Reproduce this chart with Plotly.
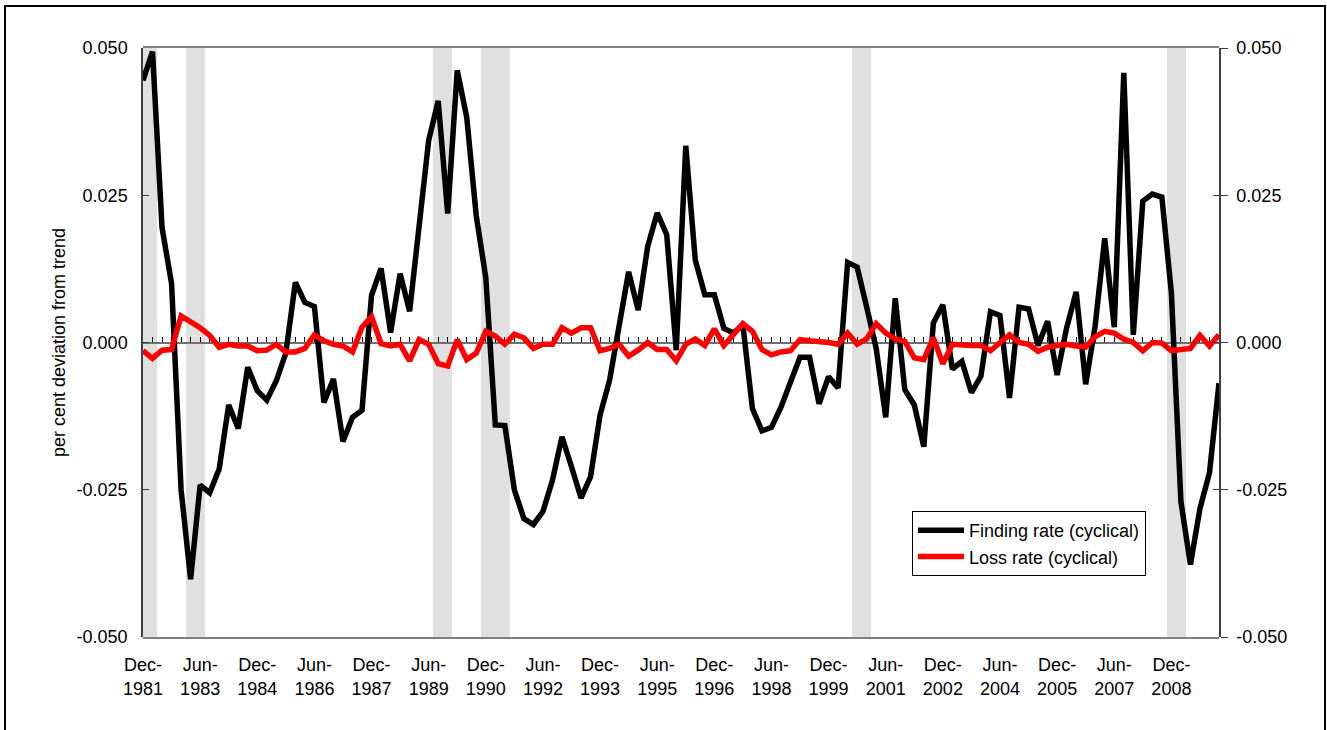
import plotly.graph_objects as go

# ---------------- data ----------------
months = ["Mar", "Jun", "Sep", "Dec"]
quarters = ["Dec-1981"] + [f"{m}-{y}" for y in range(1982, 2010) for m in months] + ["Mar-2010"]

finding_rate = [
    0.0445, 0.0494, 0.0195, 0.0100, -0.0250, -0.0402, -0.0242, -0.0255, -0.0215, -0.0106,
    -0.0146, -0.0042, -0.0082, -0.0098, -0.0065, -0.0018, 0.0102, 0.0068, 0.0061, -0.0102,
    -0.0062, -0.0168, -0.0127, -0.0115, 0.0080, 0.0126, 0.0017, 0.0117, 0.0053, 0.0196,
    0.0343, 0.0410, 0.0219, 0.0462, 0.0382, 0.0215, 0.0110, -0.0140, -0.0141, -0.0250,
    -0.0299, -0.0309, -0.0287, -0.0234, -0.0160, -0.0211, -0.0264, -0.0228, -0.0123, -0.0064,
    0.0027, 0.0120, 0.0055, 0.0163, 0.0220, 0.0183, -0.0013, 0.0334, 0.0140, 0.0081,
    0.0081, 0.0024, 0.0016, 0.0030, -0.0112, -0.0150, -0.0144, -0.0110, -0.0067, -0.0025,
    -0.0025, -0.0104, -0.0058, -0.0077, 0.0136, 0.0128, 0.0060, -0.0010, -0.0127, 0.0075,
    -0.0080, -0.0106, -0.0177, 0.0033, 0.0064, -0.0045, -0.0032, -0.0085, -0.0057, 0.0052,
    0.0046, -0.0094, 0.0060, 0.0057, -0.0005, 0.0036, -0.0055, 0.0025, 0.0086, -0.0071,
    0.0029, 0.0177, 0.0026, 0.0458, 0.0013, 0.0240, 0.0252, 0.0247, 0.0084, -0.0270,
    -0.0377, -0.0282, -0.0221, -0.0069,
]

loss_rate = [
    -0.0014, -0.0027, -0.0013, -0.0012, 0.0045, 0.0036, 0.0025, 0.0012, -0.0008, -0.0003,
    -0.0006, -0.0006, -0.0014, -0.0013, -0.0003, -0.0016, -0.0016, -0.0010, 0.0013, 0.0003,
    -0.0003, -0.0006, -0.0016, 0.0026, 0.0044, -0.0002, -0.0006, -0.0003, -0.0031, 0.0005,
    -0.0003, -0.0036, -0.0040, 0.0005, -0.0029, -0.0018, 0.0019, 0.0011, -0.0003, 0.0014,
    0.0008, -0.0010, -0.0003, -0.0003, 0.0025, 0.0016, 0.0025, 0.0025, -0.0014, -0.0010,
    -0.0003, -0.0023, -0.0013, 0.0000, -0.0012, -0.0012, -0.0031, -0.0003, 0.0006, -0.0005,
    0.0023, -0.0005, 0.0014, 0.0032, 0.0019, -0.0012, -0.0021, -0.0016, -0.0014, 0.0005,
    0.0003, 0.0002, 0.0000, -0.0003, 0.0016, -0.0003, 0.0006, 0.0032, 0.0016, 0.0006,
    0.0002, -0.0026, -0.0029, 0.0008, -0.0036, -0.0003, -0.0005, -0.0005, -0.0005, -0.0014,
    0.0000, 0.0013, 0.0000, -0.0003, -0.0015, -0.0008, -0.0005, -0.0003, -0.0006, -0.0008,
    0.0010, 0.0019, 0.0016, 0.0006, 0.0000, -0.0014, 0.0000, -0.0001, -0.0014, -0.0012,
    -0.0010, 0.0012, -0.0006, 0.0013,
]

recession_quarters = [
    "Dec-1981", "Mar-1982", "Mar-1983", "Jun-1983", "Sep-1989", "Dec-1989",
    "Dec-1990", "Mar-1991", "Jun-1991", "Sep-2000", "Dec-2000", "Dec-2008", "Mar-2009",
]

tick_quarters = quarters[::6]
tick_labels = [q.replace("-", "-<br>") for q in tick_quarters]
y_ticks = [-0.05, -0.025, 0.0, 0.025, 0.05]
y_tick_labels = [f"{v:.3f}" for v in y_ticks]

FONT = "Arial, 'Liberation Sans', sans-serif"
X_RANGE = [0, len(quarters) - 1]
Y_RANGE = [-0.05, 0.05]

fig = go.Figure()

# recession shading (bars on their own subplot underneath)
fig.add_trace(go.Bar(
    x=recession_quarters, y=[1] * len(recession_quarters), width=1,
    marker=dict(color="#E0E0E0", line=dict(width=0)),
    xaxis="x", yaxis="y", showlegend=False, hoverinfo="skip",
))

fig.add_trace(go.Scatter(
    x=quarters, y=finding_rate, mode="lines", name="Finding rate (cyclical)",
    line=dict(color="#000000", width=5.5), xaxis="x2", yaxis="y2",
))
fig.add_trace(go.Scatter(
    x=quarters, y=loss_rate, mode="lines", name="Loss rate (cyclical)",
    line=dict(color="#FF0000", width=5.5), xaxis="x2", yaxis="y3",
))

fig.update_layout(
    width=1327, height=730, autosize=False,
    margin=dict(l=143, r=108, t=48, b=93),
    paper_bgcolor="white", plot_bgcolor="rgba(0,0,0,0)",
    font=dict(family=FONT, size=18, color="black"),
    bargap=0,
    xaxis=dict(
        domain=[0, 1], anchor="y", type="category",
        categoryorder="array", categoryarray=quarters, range=X_RANGE,
        tickmode="array", tickvals=tick_quarters, ticktext=tick_labels,
        ticks="", showline=True, linecolor="#808080", linewidth=1.5, mirror=True,
        layer="below traces", showgrid=False, zeroline=False,
        tickfont=dict(size=18, color="black"), ticklabelstandoff=11,
    ),
    yaxis=dict(domain=[0, 1], anchor="x", range=[0, 1], visible=False, fixedrange=True),
    xaxis2=dict(
        domain=[0, 1], anchor="free", position=0.5, type="category",
        categoryorder="array", categoryarray=quarters, range=X_RANGE,
        tickmode="array", tickvals=quarters, ticks="inside", ticklen=5,
        tickcolor="#000000", tickwidth=1, showticklabels=False,
        showline=True, linecolor="#707070", linewidth=1.5,
        layer="below traces", showgrid=False, zeroline=False,
    ),
    yaxis2=dict(
        domain=[0, 1], anchor="x2", side="left", range=Y_RANGE,
        tickmode="array", tickvals=y_ticks, ticktext=y_tick_labels,
        ticks="inside", ticklen=6, tickcolor="#404040", tickwidth=1,
        showline=True, linecolor="#404040", linewidth=1.5, mirror="ticks",
        showgrid=False, zeroline=False, ticklabelstandoff=10,
        tickfont=dict(size=18, color="black"),
        title=dict(text="per cent deviation from trend", font=dict(size=18, color="black"), standoff=6),
    ),
    yaxis3=dict(
        overlaying="y2", anchor="x2", side="right", range=Y_RANGE,
        tickmode="array", tickvals=y_ticks, ticktext=y_tick_labels,
        ticks="outside", ticklen=7, tickcolor="#404040", tickwidth=1,
        showline=True, linecolor="#404040", linewidth=1.5,
        showgrid=False, zeroline=False, ticklabelstandoff=5,
        tickfont=dict(size=18, color="black"),
    ),
    legend=dict(
        x=(912 - 143) / 1076, y=(637 - 511) / 589, xanchor="left", yanchor="top",
        bgcolor="white", bordercolor="black", borderwidth=1,
        font=dict(size=18, color="black"), tracegroupgap=0, itemwidth=46,
    ),
    showlegend=True,
    shapes=[dict(
        type="rect", xref="paper", yref="paper",
        x0=(5 - 143) / 1076, x1=(1325 - 143) / 1076,
        y0=(637 - 760) / 589, y1=(637 - 6) / 589,
        line=dict(color="black", width=2), fillcolor="rgba(0,0,0,0)", layer="above",
    )],
)

fig.write_html(
    "out.html",
    config={"displayModeBar": False},
    post_script="document.body.style.margin='0';",
)
